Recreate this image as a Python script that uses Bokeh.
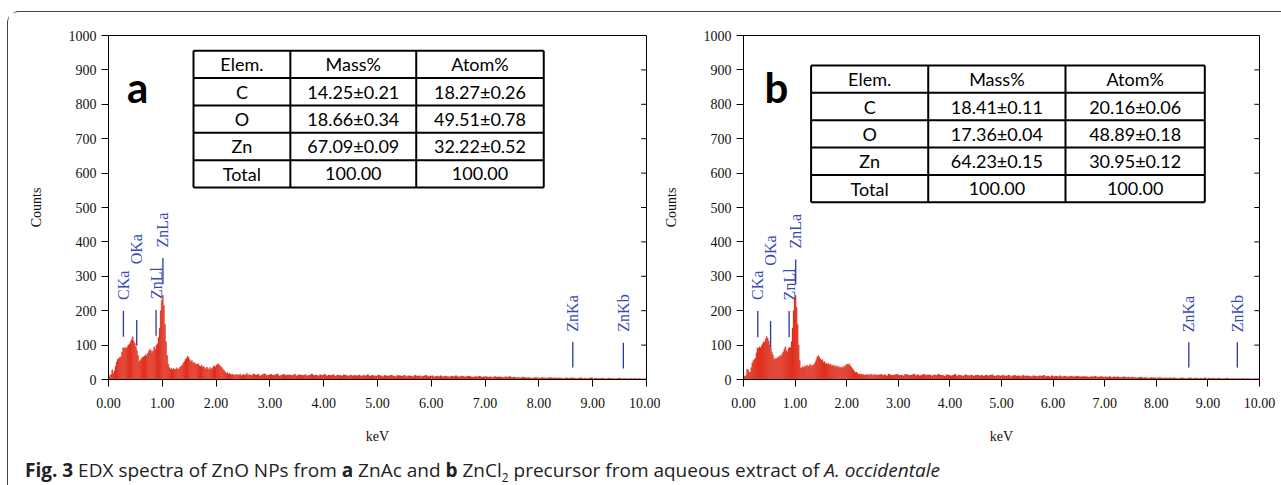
import numpy as np
from bokeh.plotting import figure
from bokeh.models import Range1d, FixedTicker, NumeralTickFormatter, ColumnDataSource, Div
from bokeh.layouts import row, column
from bokeh.core.properties import value
from bokeh.embed import file_html
from bokeh.resources import INLINE

# ---------------- data ----------------
x_ticks = [0, 1, 2, 3, 4, 5, 6, 7, 8, 9, 10]
y_ticks = [0, 100, 200, 300, 400, 500, 600, 700, 800, 900, 1000]

low_start, low_step = 0.0, 0.02     # keV channels of the low-energy part
tail_start, tail_step = 2.6, 0.04   # keV channels of the tail

counts_a_low = [
    8, 12, 15, 28, 18, 25, 38, 50, 58, 62, 64, 66, 80, 92, 91, 93, 90, 95, 100, 103,
    110, 116, 124, 112, 105, 95, 85, 70, 52, 56, 60, 64, 66, 68, 72, 70, 76, 82, 88, 84,
    78, 84, 95, 88, 100, 104, 122, 150, 200, 230, 245, 215, 160, 110, 70, 45, 35, 30, 33, 28,
    32, 30, 29, 34, 30, 31, 36, 38, 42, 48, 52, 58, 62, 68, 64, 58, 52, 55, 48, 50,
    46, 45, 44, 46, 40, 38, 42, 36, 38, 34, 30, 36, 32, 28, 35, 30, 33, 38, 40, 36,
    42, 46, 44, 40, 38, 34, 30, 26, 22, 18, 20, 16, 18, 15, 14, 16, 12, 14, 13, 15,
    12, 14, 16, 11, 13, 15, 12, 14, 18, 13]
counts_a_tail = [
    14, 12, 16, 13, 15, 11, 14, 17, 12, 13, 15, 12, 14, 16, 11, 13, 15, 12, 14, 13, 12, 15, 11, 14, 13,
    12, 14, 11, 13, 16, 12, 13, 11, 14, 12, 15, 11, 13, 12, 14, 10, 13, 12, 11, 14, 12, 10, 13, 11, 12,
    11, 13, 10, 12, 11, 14, 10, 12, 11, 10, 13, 11, 9, 12, 10, 11, 13, 10, 9, 12, 11, 10, 12, 9, 11,
    10, 9, 12, 10, 11, 9, 10, 12, 9, 10, 11, 8, 10, 9, 11, 8, 10, 9, 8, 10, 9, 11, 8, 9, 10,
    8, 9, 10, 8, 7, 9, 8, 10, 7, 8, 9, 7, 8, 6, 9, 7, 8, 7, 6, 8, 7, 9, 6, 7, 6,
    6, 5, 7, 6, 5, 6, 4, 5, 6, 5, 4, 6, 5, 4, 5, 6, 4, 5, 4, 5, 4, 3, 5, 4, 4,
    5, 4, 3, 4, 5, 3, 4, 3, 4, 5, 3, 4, 3, 3, 4, 3, 2, 4, 3, 3, 2, 3, 4, 2, 3,
    3, 2, 3, 2, 3, 2, 3, 2, 2, 3]

counts_b_low = [
    8, 10, 12, 30, 28, 20, 22, 35, 48, 55, 58, 62, 78, 92, 90, 95, 92, 98, 104, 110,
    108, 118, 125, 120, 112, 100, 92, 80, 72, 62, 58, 62, 60, 66, 64, 70, 68, 75, 80, 88,
    95, 84, 80, 90, 94, 92, 110, 150, 200, 235, 245, 210, 160, 100, 55, 32, 35, 38, 34, 40,
    36, 42, 38, 40, 44, 38, 42, 40, 45, 50, 58, 66, 70, 65, 60, 55, 58, 50, 52, 46,
    48, 44, 47, 42, 45, 40, 42, 38, 41, 36, 40, 35, 38, 34, 36, 32, 38, 35, 40, 42,
    45, 42, 46, 40, 36, 32, 28, 24, 20, 22, 18, 15, 17, 14, 16, 13, 15, 12, 14, 13,
    15, 12, 14, 16, 12, 13, 15, 11, 14, 13]
counts_b_tail = [
    13, 15, 12, 14, 11, 16, 13, 12, 14, 15, 12, 13, 11, 15, 14, 12, 13, 16, 12, 14, 11, 13, 15, 12, 14,
    13, 11, 14, 12, 15, 13, 12, 10, 14, 13, 11, 12, 15, 11, 13, 12, 10, 14, 12, 11, 13, 10, 12, 13, 11,
    12, 10, 13, 11, 12, 14, 10, 11, 12, 10, 12, 11, 10, 13, 9, 11, 12, 10, 11, 9, 12, 10, 11, 10, 9,
    11, 10, 9, 11, 10, 12, 9, 10, 8, 11, 9, 10, 9, 11, 8, 10, 9, 8, 10, 9, 8, 10, 9, 8, 9,
    9, 8, 7, 9, 8, 10, 7, 8, 9, 7, 8, 7, 9, 6, 8, 7, 8, 6, 7, 8, 6, 7, 6, 7, 6,
    5, 6, 7, 5, 6, 5, 4, 6, 5, 5, 4, 6, 5, 4, 5, 4, 5, 4, 5, 4, 3, 4, 5, 4, 3,
    4, 5, 3, 4, 4, 3, 4, 3, 5, 3, 4, 3, 4, 3, 3, 4, 2, 3, 3, 4, 2, 3, 3, 2, 3,
    2, 3, 3, 2, 3, 2, 2, 3, 2, 3]

peak_names = ["CKa", "OKa", "ZnLl", "ZnLa", "ZnKa", "ZnKb"]
peak_kev = [0.277, 0.525, 0.884, 1.012, 8.63, 9.57]
peak_line_lo_a = [124, 98, 127, 277, 35, 32]
peak_line_hi_a = [199, 173, 202, 353, 110, 107]
peak_text_a = [231, 335, 234, 384, 139, 139]
peak_line_lo_b = [123, 94, 123, 276, 35, 35]
peak_line_hi_b = [199, 170, 199, 349, 108, 108]
peak_text_b = [231, 331, 230, 381, 137, 137]

table_header = ["Elem.", "Mass%", "Atom%"]
elements = ["C", "O", "Zn", "Total"]
mass_a = ["14.25±0.21", "18.66±0.34", "67.09±0.09", "100.00"]
atom_a = ["18.27±0.26", "49.51±0.78", "32.22±0.52", "100.00"]
mass_b = ["18.41±0.11", "17.36±0.04", "64.23±0.15", "100.00"]
atom_b = ["20.16±0.06", "48.89±0.18", "30.95±0.12", "100.00"]

# ---------------- styling ----------------
RED = "#e0301f"
BLUE_LINE = "#2a3aa0"
BLUE_TXT = "#3a4ab4"
SERIF = "Liberation Serif"
TABLE_FONT = "Lato"


def make_panel(letter, low, tail, lo, hi, txt, mass, atom, width, height,
               mb_left, mb_right, mb_top, mb_bottom, col_edges, row_top, row_bot, letter_pos):
    p = figure(width=width, height=height, output_backend="svg", toolbar_location=None,
               x_range=Range1d(0, 10), y_range=Range1d(0, 1000),
               min_border_left=mb_left, min_border_right=mb_right,
               min_border_top=mb_top, min_border_bottom=mb_bottom,
               background_fill_color="white", border_fill_color="white")
    p.grid.visible = False
    p.outline_line_color = "black"
    p.outline_line_width = 1

    # spectrum bars
    left = [low_start + i * low_step for i in range(len(low))] + \
           [tail_start + i * tail_step for i in range(len(tail))]
    right = [low_start + (i + 1) * low_step for i in range(len(low))] + \
            [tail_start + (i + 1) * tail_step for i in range(len(tail))]
    src = ColumnDataSource(dict(left=left, right=right, top=list(low) + list(tail),
                                bottom=[0] * (len(low) + len(tail))))
    p.quad(left="left", right="right", top="top", bottom="bottom", source=src,
           fill_color=RED, line_color=RED, line_width=0.3)

    # inward ticks on the right frame edge
    p.segment(x0=[10] * len(y_ticks), x1=[9.9] * len(y_ticks), y0=y_ticks, y1=y_ticks,
              line_color="black", line_width=1)

    # peak markers
    p.segment(x0=peak_kev, x1=peak_kev, y0=lo, y1=hi, line_color=BLUE_LINE, line_width=1.3)
    p.text(x=peak_kev, y=txt, text=peak_names, angle=np.pi / 2, text_align="left",
           text_baseline="middle", text_font=value(SERIF), text_font_size="16px",
           text_color=BLUE_TXT)

    # table
    x0, x3 = col_edges[0], col_edges[-1]
    nrows = 5
    rh = (row_top - row_bot) / nrows
    row_edges = [row_top - k * rh for k in range(nrows + 1)]
    p.segment(x0=[x0] * len(row_edges), x1=[x3] * len(row_edges), y0=row_edges, y1=row_edges,
              line_color="black", line_width=2)
    p.segment(x0=col_edges, x1=col_edges, y0=[row_top] * len(col_edges), y1=[row_bot] * len(col_edges),
              line_color="black", line_width=2)
    cells_x, cells_y, cells_t = [], [], []
    cols = [[table_header[0]] + elements, [table_header[1]] + mass, [table_header[2]] + atom]
    for c in range(3):
        cx = (col_edges[c] + col_edges[c + 1]) / 2
        for r in range(nrows):
            cy = row_top - (r + 0.5) * rh
            cells_x.append(cx)
            cells_y.append(cy)
            cells_t.append(cols[c][r])
    p.text(x=cells_x, y=cells_y, text=cells_t, text_align="center", text_baseline="middle",
           text_font=value(TABLE_FONT), text_font_size="18px", text_color="black")

    # panel letter
    p.text(x=[letter_pos[0]], y=[letter_pos[1]], text=[letter], text_align="center",
           text_baseline="alphabetic", text_font=value(TABLE_FONT), text_font_size="42px",
           text_font_style="bold", text_color="black")

    # axes
    p.xaxis.ticker = FixedTicker(ticks=x_ticks)
    p.xaxis.formatter = NumeralTickFormatter(format="0.00")
    p.yaxis.ticker = FixedTicker(ticks=y_ticks)
    for ax in (p.xaxis[0], p.yaxis[0]):
        ax.major_tick_in = 0
        ax.major_tick_out = 7
        ax.minor_tick_line_color = None
        ax.axis_line_color = "black"
        ax.major_tick_line_color = "black"
        ax.major_label_text_font = SERIF
        ax.major_label_text_font_size = "14px"
        ax.major_label_text_color = "#111111"
        ax.axis_label_text_font = SERIF
        ax.axis_label_text_font_size = "14px"
        ax.axis_label_text_font_style = "normal"
        ax.axis_label_text_color = "#111111"
    p.xaxis.axis_label = "keV"
    p.xaxis.major_label_standoff = 11
    p.xaxis.axis_label_standoff = 18
    p.yaxis.axis_label = "Counts"
    p.yaxis.major_label_standoff = 5
    p.yaxis.axis_label_standoff = 22
    return p


pa = make_panel("a", counts_a_low, counts_a_tail, peak_line_lo_a, peak_line_hi_a, peak_text_a,
                mass_a, atom_a, width=652, height=438,
                mb_left=100, mb_right=14, mb_top=21, mb_bottom=71,
                col_edges=[1.58, 3.38, 5.72, 8.09], row_top=956, row_bot=558,
                letter_pos=(0.54, 850))
pb = make_panel("b", counts_b_low, counts_b_tail, peak_line_lo_b, peak_line_hi_b, peak_text_b,
                mass_b, atom_b, width=619, height=438,
                mb_left=80, mb_right=20, mb_top=23, mb_bottom=71,
                col_edges=[1.31, 3.58, 6.24, 8.94], row_top=913, row_bot=515,
                letter_pos=(0.64, 849))

caption = Div(
    text=("<div style=\"font-family:'Open Sans';font-size:19px;color:#222;white-space:nowrap;line-height:24px;\">"
          "<b>Fig. 3</b> EDX spectra of ZnO NPs from <b>a</b> ZnAc and <b>b</b> ZnCl<sub style='font-size:12px'>2</sub> "
          "precursor from aqueous extract of <i>A. occidentale</i></div>"),
    width=1271, height=33,
    styles={"padding-left": "12px", "padding-top": "3px", "box-sizing": "border-box"})

lay = column(row(pa, pb), caption, margin=(11, 0, 0, 7),
             styles={"border-top": "1.5px solid #444", "border-left": "1.5px solid #444",
                     "border-top-left-radius": "12px"})

open("out.html", "w").write(file_html(lay, INLINE))
